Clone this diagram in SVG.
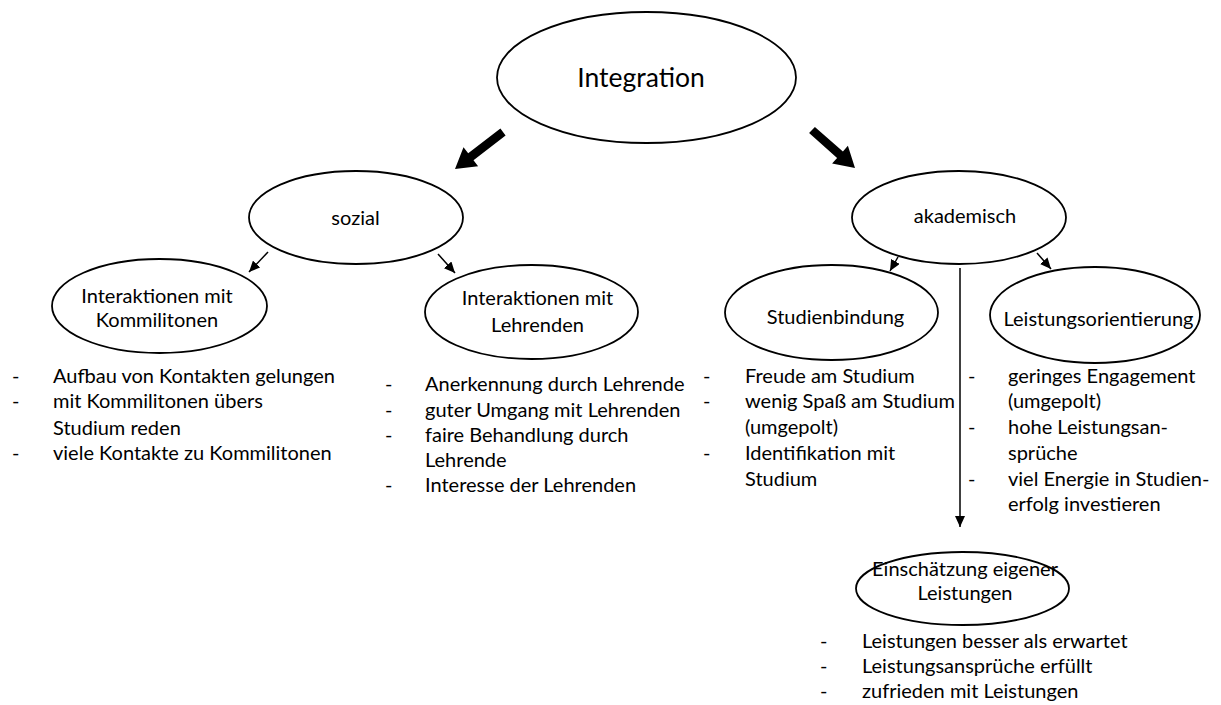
<svg xmlns="http://www.w3.org/2000/svg" width="1221" height="705" viewBox="0 0 1221 705">
  <style>
    .node { fill: #ffffff; stroke: #000000; stroke-width: 1.8; }
    .lbl { font-family: Lato, "Liberation Sans", sans-serif; font-size: 20px; fill: #000000; text-anchor: middle; }
    .big { font-family: Lato, "Liberation Sans", sans-serif; font-size: 26.5px; fill: #000000; text-anchor: middle; }
    .li { font-family: Lato, "Liberation Sans", sans-serif; font-size: 20px; fill: #000000; }
    .conn { stroke: #000000; stroke-width: 1.5; fill: none; }
    .thick { fill: #000000; stroke: none; }
  </style>
  <defs>
    <marker id="ah" markerUnits="userSpaceOnUse" markerWidth="11" markerHeight="10" refX="11" refY="5" orient="auto">
      <path d="M0,0 L11,5 L0,10 z" fill="#000000"/>
    </marker>
  </defs>
  <rect x="0" y="0" width="1221" height="705" fill="#ffffff"/>

  <g id="connectors">
    <polygon class="thick" points="505.6,135.5 473.5,160.3 478.1,166.3 455,169 463.5,147.3 468.2,153.3 500.4,128.5"/>
    <polygon class="thick" points="809.1,133.1 837.1,157.9 832.1,163.5 855,168 847.9,145.8 842.9,151.5 814.9,126.9"/>
    <line class="conn" x1="268" y1="252" x2="249" y2="272" marker-end="url(#ah)"/>
    <line class="conn" x1="438" y1="254" x2="455" y2="273" marker-end="url(#ah)"/>
    <line class="conn" x1="898" y1="257" x2="890" y2="271" marker-end="url(#ah)"/>
    <line class="conn" x1="1037" y1="253" x2="1051" y2="269" marker-end="url(#ah)"/>
    <line class="conn" x1="960" y1="268" x2="960" y2="527" marker-end="url(#ah)"/>
  </g>

  <g id="integration">
    <ellipse class="node" cx="646.5" cy="77.5" rx="149.5" ry="65.5"/>
    <text class="big" x="641" y="87">Integration</text>
  </g>

  <g id="sozial">
    <ellipse class="node" cx="356" cy="217.5" rx="107" ry="46.5"/>
    <text class="lbl" x="355.5" y="225">sozial</text>
  </g>

  <g id="akademisch">
    <ellipse class="node" cx="959" cy="217.5" rx="107" ry="46.5"/>
    <text class="lbl" x="965" y="223">akademisch</text>
  </g>

  <g id="kommilitonen">
    <ellipse class="node" cx="159.5" cy="306" rx="107.5" ry="47"/>
    <text class="lbl" x="157" y="303">Interaktionen mit</text>
    <text class="lbl" x="157" y="327">Kommilitonen</text>
  </g>

  <g id="lehrenden">
    <ellipse class="node" cx="531.5" cy="312" rx="106.5" ry="47"/>
    <text class="lbl" x="537.5" y="305">Interaktionen mit</text>
    <text class="lbl" x="537.5" y="332">Lehrenden</text>
  </g>

  <g id="studienbindung">
    <ellipse class="node" cx="831.5" cy="312.5" rx="106.5" ry="47.5"/>
    <text class="lbl" x="835.5" y="324">Studienbindung</text>
  </g>

  <g id="leistungsorientierung">
    <ellipse class="node" cx="1095" cy="315" rx="105" ry="48"/>
    <text class="lbl" x="1098.5" y="326">Leistungsorientierung</text>
  </g>

  <g id="einschaetzung">
    <ellipse class="node" cx="962.5" cy="588.5" rx="106.5" ry="36.5"/>
    <text class="lbl" x="965" y="576">Einschätzung eigener</text>
    <text class="lbl" x="965" y="600">Leistungen</text>
  </g>

  <g id="list-kommilitonen">
    <text class="li" x="12" y="383">-</text>
    <text class="li" x="53" y="383">Aufbau von Kontakten gelungen</text>
    <text class="li" x="12" y="408">-</text>
    <text class="li" x="53" y="408">mit Kommilitonen übers</text>
    <text class="li" x="53" y="435">Studium reden</text>
    <text class="li" x="12" y="460">-</text>
    <text class="li" x="53" y="460">viele Kontakte zu Kommilitonen</text>
  </g>

  <g id="list-lehrenden">
    <text class="li" x="385" y="391">-</text>
    <text class="li" x="425" y="391">Anerkennung durch Lehrende</text>
    <text class="li" x="385" y="417">-</text>
    <text class="li" x="425" y="417">guter Umgang mit Lehrenden</text>
    <text class="li" x="385" y="442">-</text>
    <text class="li" x="425" y="442">faire Behandlung durch</text>
    <text class="li" x="425" y="467">Lehrende</text>
    <text class="li" x="385" y="492">-</text>
    <text class="li" x="425" y="492">Interesse der Lehrenden</text>
  </g>

  <g id="list-studienbindung">
    <text class="li" x="703" y="383">-</text>
    <text class="li" x="745" y="383">Freude am Studium</text>
    <text class="li" x="703" y="408">-</text>
    <text class="li" x="745" y="408">wenig Spaß am Studium</text>
    <text class="li" x="745" y="434">(umgepolt)</text>
    <text class="li" x="703" y="460">-</text>
    <text class="li" x="745" y="460">Identifikation mit</text>
    <text class="li" x="745" y="486">Studium</text>
  </g>

  <g id="list-leistungsorientierung">
    <text class="li" x="968" y="383">-</text>
    <text class="li" x="1008" y="383">geringes Engagement</text>
    <text class="li" x="1008" y="408">(umgepolt)</text>
    <text class="li" x="968" y="434">-</text>
    <text class="li" x="1008" y="434">hohe Leistungsan-</text>
    <text class="li" x="1008" y="460">sprüche</text>
    <text class="li" x="968" y="486">-</text>
    <text class="li" x="1008" y="486">viel Energie in Studien-</text>
    <text class="li" x="1008" y="511">erfolg investieren</text>
  </g>

  <g id="list-einschaetzung">
    <text class="li" x="820" y="648">-</text>
    <text class="li" x="862" y="648">Leistungen besser als erwartet</text>
    <text class="li" x="820" y="673">-</text>
    <text class="li" x="862" y="673">Leistungsansprüche erfüllt</text>
    <text class="li" x="820" y="698">-</text>
    <text class="li" x="862" y="698">zufrieden mit Leistungen</text>
  </g>
</svg>
